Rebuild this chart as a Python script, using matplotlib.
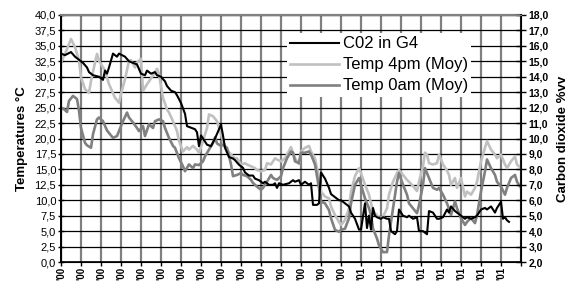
import matplotlib
matplotlib.use('Agg')
import matplotlib.pyplot as plt
from matplotlib.ticker import FuncFormatter, MultipleLocator

plt.rcParams['font.family'] = ['Liberation Sans', 'DejaVu Sans']

# ---- data (day index from first date) ----
co2_days = [0, 2, 5, 7, 9, 11, 13, 14, 16, 19, 21, 22, 23, 24, 26, 28, 29, 32, 34, 36, 38,
            40, 42, 43, 45, 47, 48, 50, 52, 53, 55, 57, 58, 60, 62, 63, 65, 67, 68, 69, 70,
            72, 73, 75, 77, 78, 80, 81, 82, 84, 86, 87, 89, 91, 92, 94, 96, 97, 99, 101, 102,
            104, 106, 107, 108, 109, 111, 114, 116, 117, 119, 120, 122, 124, 125, 126, 128,
            129, 130, 132, 134, 135, 137, 139, 140, 142, 144, 145, 147, 149, 150, 152, 153,
            154, 155, 156, 157, 158, 160, 161, 163, 164, 165, 167, 168, 169, 171, 173, 174,
            176, 178, 179, 181, 183, 184, 186, 188, 189, 191, 193, 194, 195, 197, 198, 200,
            202, 203, 205, 207, 208, 210, 212, 213, 215, 217, 218, 220, 221, 222, 223, 224]
co2_pct = [15.5, 15.4, 15.6, 15.3, 15.1, 14.9, 14.6, 14.3, 14.1, 14.0, 13.8, 14.4, 14.2, 14.6,
           15.5, 15.3, 15.5, 15.3, 15.0, 14.9, 14.8,
           14.2, 14.1, 14.4, 14.2, 14.3, 14.1, 14.0, 13.7, 13.4, 13.1, 13.0, 12.8, 12.3, 11.6,
           10.8, 10.7, 10.6, 10.4, 9.5, 10.2,
           9.8, 9.6, 9.5, 10.0, 10.3, 10.9, 10.2, 9.4, 8.8, 8.7, 8.6, 8.3, 8.1, 7.8, 7.6, 7.6,
           7.4, 7.3, 7.1, 7.2,
           7.0, 7.0, 7.1, 6.8, 7.1, 7.0, 7.1, 7.3, 7.2, 7.3, 7.0, 7.2, 7.0, 7.1, 5.7, 5.7,
           5.8, 7.8, 7.4, 6.8, 6.4, 6.2, 6.0, 6.0, 5.8, 5.6, 5.2, 4.8, 4.1, 4.1, 5.8, 4.2,
           5.0, 4.1, 5.5, 5.0, 4.9, 4.8, 4.9, 4.8, 4.8, 4.0, 3.8, 4.0, 5.4, 5.0, 4.9, 5.0,
           4.8, 4.9, 4.0, 4.0, 3.8, 5.3, 5.2, 4.8, 4.8, 4.9, 5.4, 5.2, 5.6, 5.3, 5.2, 5.0,
           4.8, 4.9, 4.8, 4.9, 5.0, 5.4, 5.5, 5.4, 5.6, 5.2, 5.5, 5.9, 4.8, 4.9, 4.7, 4.6]

t4_days = [0, 2, 4, 5, 7, 9, 10, 12, 14, 15, 17, 18, 19, 22, 24, 27, 29, 30, 32, 34, 35, 37,
           38, 40, 41, 43, 46, 48, 49, 51, 53, 54, 56, 58, 59, 61, 63, 64, 66, 68, 69, 71, 73,
           74, 76, 78, 80, 82, 83, 85, 87, 88, 90, 92, 93, 95, 97, 98, 100, 102, 103, 105,
           107, 108, 110, 112, 113, 115, 117, 119, 120, 122, 124, 125, 127, 129, 130, 132,
           134, 135, 137, 139, 140, 142, 144, 145, 147, 149, 150, 152, 154, 155, 156, 158,
           159, 161, 163, 164, 166, 168, 169, 171, 173, 174, 176, 178, 179, 181, 182, 183,
           184, 186, 188, 189, 191, 193, 194, 195, 197, 198, 200, 202, 203, 205, 207, 208,
           210, 212, 213, 215, 217, 218, 220, 222, 223, 225, 227, 228, 230]
t4_vals = [32.3, 33.7, 35.3, 36.1, 34.8, 32.6, 29.9, 28.0, 27.4, 29.3, 32.3, 33.7, 32.6, 31.0,
           28.8, 26.6, 25.8, 27.2, 29.6, 32.6, 32.7, 31.5,
           32.3, 32.9, 27.7, 28.8, 30.2, 31.3, 30.4, 26.6, 24.7, 24.2, 22.8, 21.2, 19.6, 17.9,
           18.6, 18.2, 18.8, 18.2, 17.7, 19.6, 21.7,
           23.9, 23.6, 22.8, 20.7, 18.5, 18.2, 17.4, 16.8, 16.8, 15.8, 16.0, 15.8, 15.5, 15.2,
           14.9, 14.7, 14.9, 16.0, 15.8,
           16.8, 16.6, 16.3, 16.8, 17.4, 18.6, 16.8, 15.9, 17.9, 18.5, 18.8, 17.9, 16.8, 13.6,
           11.4, 10.6,
           10.3, 9.0, 7.6, 6.5, 6.0, 6.8, 8.7, 11.4, 13.9, 15.2, 14.4, 12.5, 10.9, 9.5, 8.2,
           7.6,
           7.1, 7.3, 8.7, 10.9, 13.0, 14.4, 14.9, 14.1, 13.3, 13.0, 12.3, 11.5, 13.0, 15.5,
           17.7, 17.4,
           16.0, 15.8, 16.0, 17.4, 15.8, 14.8, 14.1, 12.5, 13.6, 12.0, 13.6, 10.6, 11.4, 10.9,
           12.0, 13.0,
           16.3, 18.5, 19.6, 18.2, 17.4, 16.8, 17.4, 15.8, 15.2, 16.3, 17.1, 15.8, 15.2]

t0_days = [0, 1, 3, 4, 6, 8, 9, 10, 12, 13, 15, 16, 18, 19, 21, 23, 24, 26, 28, 29, 31, 33,
           34, 36, 38, 39, 41, 42, 44, 46, 47, 49, 51, 52, 54, 56, 57, 59, 61, 62, 64, 66, 67,
           69, 71, 72, 74, 76, 77, 78, 80, 81, 83, 85, 86, 88, 90, 91, 93, 95, 96, 98, 100,
           101, 103, 105, 106, 108, 110, 111, 113, 115, 116, 117, 119, 120, 122, 124, 125,
           127, 129, 130, 132, 134, 135, 137, 139, 140, 142, 144, 145, 147, 149, 150, 152,
           154, 155, 156, 158, 159, 161, 163, 164, 166, 168, 169, 171, 173, 174, 176, 178,
           179, 181, 182, 184, 186, 188, 189, 191, 193, 194, 195, 197, 198, 200, 202, 203,
           205, 207, 208, 210, 212, 213, 215, 217, 218, 220, 222, 223, 225, 227, 228, 230]
t0_vals = [24.7, 24.9, 24.3, 26.1, 26.9, 26.4, 24.5, 21.7, 19.3, 18.9, 18.5, 20.7, 23.1, 23.4,
           22.8, 21.3, 20.9, 20.1, 20.4, 21.2, 22.8, 24.2,
           23.4, 22.6, 21.7, 21.2, 22.0, 20.4, 22.3, 21.7, 22.8, 23.1, 22.8, 21.7, 20.1, 18.8,
           18.5, 16.8, 15.5, 14.7, 15.8, 15.2, 15.8,
           15.7, 16.3, 17.1, 18.2, 19.3, 20.2, 19.2, 18.8, 19.0, 18.5, 15.8, 13.9, 14.1, 14.4,
           14.1, 13.9, 13.3, 12.8, 12.2, 11.7,
           12.0, 13.0, 14.1, 13.6, 13.3, 13.9, 15.2, 16.8, 17.9, 17.7, 16.3, 16.0, 17.7, 17.7,
           17.9, 17.4,
           15.8, 12.0, 9.8, 9.5, 8.4, 7.1, 5.2, 4.9, 5.2, 5.4, 7.1, 9.5, 12.5, 13.6, 12.5, 10.3,
           8.7, 7.6, 5.4, 3.8, 2.7, 1.6, 1.6, 4.3, 8.7, 13.0, 14.4, 12.5, 10.9, 9.5, 8.7, 7.9,
           9.2, 12.5, 15.2, 13.6, 12.0, 11.7, 12.0, 10.9, 9.5, 8.6, 7.6, 9.8, 8.7, 7.1, 6.0,
           6.5,
           7.1, 6.3, 7.6, 11.4, 14.7, 16.6, 15.2, 14.1, 13.0, 12.2, 10.9, 12.0, 13.6, 14.1,
           13.0, 12.0]

tick_days = [0, 10, 20, 30, 40, 50, 60, 70, 80, 90, 100, 110, 120, 130, 140, 150, 160, 170,
             180, 190, 200, 210, 220, 230]
tick_labels = ["'00", "'00", "'00", "'00", "'00", "'00", "'00", "'00", "'00", "'00", "'00",
               "'00", "'00", "'00", "'00", "'01", "'01", "'01", "'01", "'01", "'01", "'01",
               "'01", '']

series_names = ['C02 in G4', 'Temp 4pm (Moy)', 'Temp 0am (Moy)']

# ---- figure ----
W, H = 571, 281
fig = plt.figure(figsize=(W / 100, H / 100), dpi=100)
L, R, T, B = 61, 521, 15, 262
ax = fig.add_axes([L / W, 1 - B / H, (R - L) / W, (B - T) / H])
ax2 = ax.twinx()

comma = FuncFormatter(lambda v, p: f"{v:.1f}".replace('.', ','))

ax.set_xlim(0, 230)
ax.set_ylim(0, 40)
ax.yaxis.set_major_locator(MultipleLocator(2.5))
ax.yaxis.set_major_formatter(comma)
ax.set_xticks(tick_days)
ax.set_xticklabels(tick_labels, rotation=90, fontsize=7, fontweight='bold')
ax.tick_params(axis='y', labelsize=8, direction='inout', length=5, width=1, pad=1)
ax.tick_params(axis='x', direction='out', length=3, width=1, pad=0.5)

ax2.set_ylim(2, 18)
ax2.yaxis.set_major_locator(MultipleLocator(1))
ax2.yaxis.set_major_formatter(comma)
ax2.tick_params(axis='y', labelsize=7.5, direction='inout', length=7, width=1, pad=2)
for lab in ax2.get_yticklabels():
    lab.set_fontweight('bold')

# grid
ax.set_axisbelow(True)
ax.yaxis.grid(True, color='black', linewidth=0.9)
ax.xaxis.grid(True, color='#808080', linewidth=1.6)

ax.spines['top'].set_color('#808080')
ax2.spines['top'].set_color('#808080')
ax.spines['top'].set_linewidth(1.6)
ax.spines['left'].set_linewidth(1.4)
ax.spines['bottom'].set_linewidth(1.2)
ax2.spines['right'].set_linewidth(1.2)

l4, = ax.plot(t4_days, t4_vals, color='#c0c0c0', linewidth=1.9, label=series_names[1])
l0, = ax.plot(t0_days, t0_vals, color='#808080', linewidth=1.9, label=series_names[2])
lc, = ax2.plot(co2_days, co2_pct, color='black', linewidth=1.5, label=series_names[0])

ax.set_ylabel('Temperatures °C', fontsize=9.5, fontweight='bold', labelpad=5)
ax2.set_ylabel('Carbon dioxide %vv', fontsize=9.5, fontweight='bold', labelpad=6)

leg = ax2.legend(handles=[lc, l4, l0], loc='upper left',
                 bbox_to_anchor=((287 - L) / (R - L), (B - 33) / (B - T)),
                 borderaxespad=0, fontsize=12, frameon=True, fancybox=False,
                 framealpha=1, edgecolor='none', facecolor='white',
                 handlelength=2.9, handletextpad=0.25, labelspacing=0.36, borderpad=0.2)
leg.set_zorder(10)

fig.savefig('out.png', dpi=100)
